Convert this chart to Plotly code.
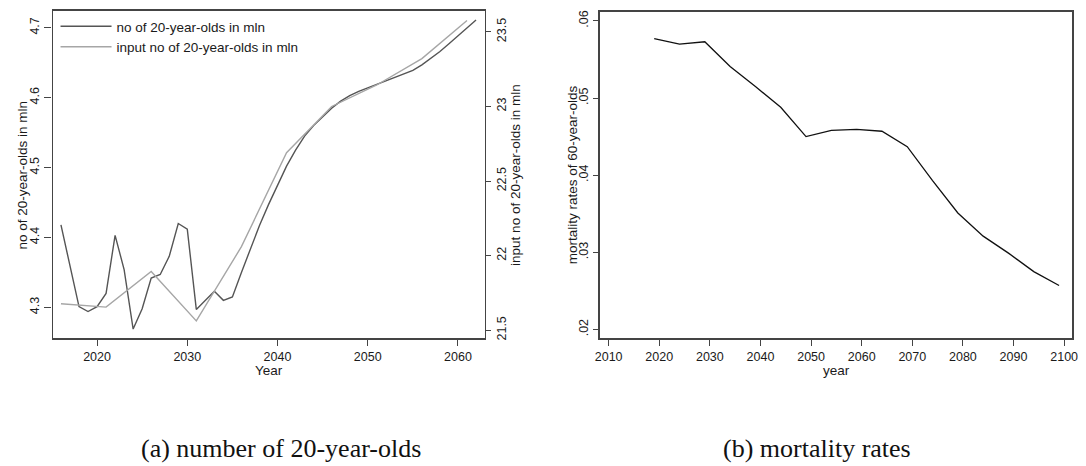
import plotly.graph_objects as go

# ---- data: panel (a) ----
years_a = list(range(2016, 2063))
no20 = [4.418, 4.359, 4.301, 4.294, 4.301, 4.320, 4.403, 4.354, 4.269, 4.298,
        4.342, 4.347, 4.373, 4.420, 4.412, 4.297, 4.310, 4.323, 4.310, 4.315,
        4.350, 4.385, 4.417, 4.447, 4.475, 4.502, 4.525, 4.545, 4.560, 4.573,
        4.585, 4.595, 4.603, 4.609, 4.614, 4.619, 4.624, 4.628, 4.633, 4.639,
        4.647, 4.656, 4.666, 4.677, 4.688, 4.700, 4.711]
years_in = [2016, 2021, 2026, 2031, 2036, 2041, 2046, 2051, 2056, 2061]
input20 = [21.677, 21.655, 21.894, 21.562, 22.06, 22.69, 23.0, 23.144, 23.321, 23.576]

# ---- data: panel (b) ----
years_b = [2019, 2024, 2029, 2034, 2039, 2044, 2049, 2054, 2059, 2064, 2069,
           2074, 2079, 2084, 2089, 2094, 2099]
mort60 = [0.0577, 0.0570, 0.0573, 0.0541, 0.0515, 0.0488, 0.0450, 0.0458,
          0.04595, 0.0457, 0.0437, 0.0393, 0.0351, 0.0321, 0.0299, 0.0275, 0.0257]

xticks_a = [2020, 2030, 2040, 2050, 2060]
yticks_a = [4.3, 4.4, 4.5, 4.6, 4.7]
yticks_a2 = [21.5, 22, 22.5, 23, 23.5]
xticks_b = list(range(2010, 2101, 10))
yticks_b = [0.02, 0.03, 0.04, 0.05, 0.06]
yticktext_b = [".02", ".03", ".04", ".05", ".06"]

# the page body has an 8px margin, so the figure is drawn 8px in from the corner
OFF = 8
W, H = 1086 - OFF, 466 - OFF
SANS = "Liberation Sans, Arial, sans-serif"
SERIF = "Liberation Serif, DejaVu Serif, serif"
TXT = "#1a1a1a"
AX = "#444444"

fig = go.Figure()
fig.add_trace(go.Scatter(x=years_a, y=no20, mode="lines", name="no of 20-year-olds in mln",
                         line=dict(color="#555555", width=1.4), xaxis="x", yaxis="y"))
fig.add_trace(go.Scatter(x=years_in, y=input20, mode="lines", name="input no of 20-year-olds in mln",
                         line=dict(color="#a6a6a6", width=1.4), xaxis="x", yaxis="y2"))
fig.add_trace(go.Scatter(x=years_b, y=mort60, mode="lines", showlegend=False,
                         line=dict(color="#111111", width=1.3), xaxis="x2", yaxis="y3"))


def px_x(p):
    return (p - OFF) / W


def px_y(p):
    return 1 - (p - OFF) / H


tickfont = dict(family=SANS, size=12.5, color=TXT)

fig.update_layout(
    width=W, height=H,
    margin=dict(l=0, r=0, t=0, b=0),
    paper_bgcolor="white", plot_bgcolor="white",
    font=dict(family=SANS, color=TXT),
    xaxis=dict(domain=[px_x(47), px_x(484)], range=[2015.07, 2062.96],
               tickvals=xticks_a, ticks="outside", ticklen=6, tickcolor=AX,
               showline=True, linecolor=AX, linewidth=1.6, mirror=True,
               showgrid=False, zeroline=False, tickfont=tickfont, anchor="y"),
    yaxis=dict(domain=[px_y(339), px_y(9)], range=[4.256, 4.724],
               tickvals=yticks_a, ticktext=[f"{v:.1f}" for v in yticks_a],
               ticks="outside", ticklen=7, tickcolor=AX, tickangle=-90,
               showline=True, linecolor=AX, linewidth=1.2,
               showgrid=False, zeroline=False, tickfont=tickfont, anchor="x"),
    yaxis2=dict(overlaying="y", side="right", range=[21.447, 23.64],
                tickvals=yticks_a2, ticktext=["21.5", "22", "22.5", "23", "23.5"],
                ticks="outside", ticklen=5, tickcolor=AX, tickangle=-90,
                showline=True, linecolor=AX, linewidth=1.2,
                showgrid=False, zeroline=False, tickfont=tickfont, anchor="x"),
    xaxis2=dict(domain=[px_x(601), px_x(1078)], range=[2008.37, 2101.57],
                tickvals=xticks_b, ticks="outside", ticklen=6, tickcolor=AX,
                showline=True, linecolor=AX, linewidth=1.6, mirror=True,
                showgrid=False, zeroline=False, tickfont=tickfont, anchor="y3"),
    yaxis3=dict(domain=[px_y(339), px_y(10)], range=[0.01888, 0.06116],
                tickvals=yticks_b, ticktext=yticktext_b,
                ticks="outside", ticklen=6, tickcolor=AX, tickangle=-90,
                showline=True, linecolor=AX, linewidth=1.6, mirror=True,
                showgrid=False, zeroline=False, tickfont=tickfont, anchor="x2"),
    legend=dict(x=px_x(50), y=px_y(9), xanchor="left", yanchor="top",
                bgcolor="rgba(0,0,0,0)", borderwidth=0,
                font=dict(family=SANS, size=13.5, color=TXT),
                itemwidth=51, tracegroupgap=0),
    showlegend=True,
)

ann = [
    dict(text="no of 20-year-olds in mln", x=px_x(17), y=px_y(174), textangle=-90,
         font=dict(family=SANS, size=13.5, color=TXT)),
    dict(text="input no of 20-year-olds in mln", x=px_x(515), y=px_y(174), textangle=-90,
         font=dict(family=SANS, size=13.5, color=TXT)),
    dict(text="Year", x=px_x(266), y=px_y(372),
         font=dict(family=SANS, size=13.5, color=TXT)),
    dict(text="mortality rates of 60-year-olds", x=px_x(573), y=px_y(174), textangle=-90,
         font=dict(family=SANS, size=13.5, color=TXT)),
    dict(text="year", x=px_x(840), y=px_y(372),
         font=dict(family=SANS, size=13.5, color=TXT)),
    dict(text="(a) number of 20-year-olds", x=px_x(278), y=px_y(450),
         font=dict(family=SERIF, size=26, color="#111111")),
    dict(text="(b) mortality rates", x=px_x(820), y=px_y(450),
         font=dict(family=SERIF, size=26, color="#111111")),
]
for a in ann:
    a.update(xref="paper", yref="paper", showarrow=False, xanchor="center", yanchor="middle")
fig.update_layout(annotations=ann)

fig.write_html("out.html")
